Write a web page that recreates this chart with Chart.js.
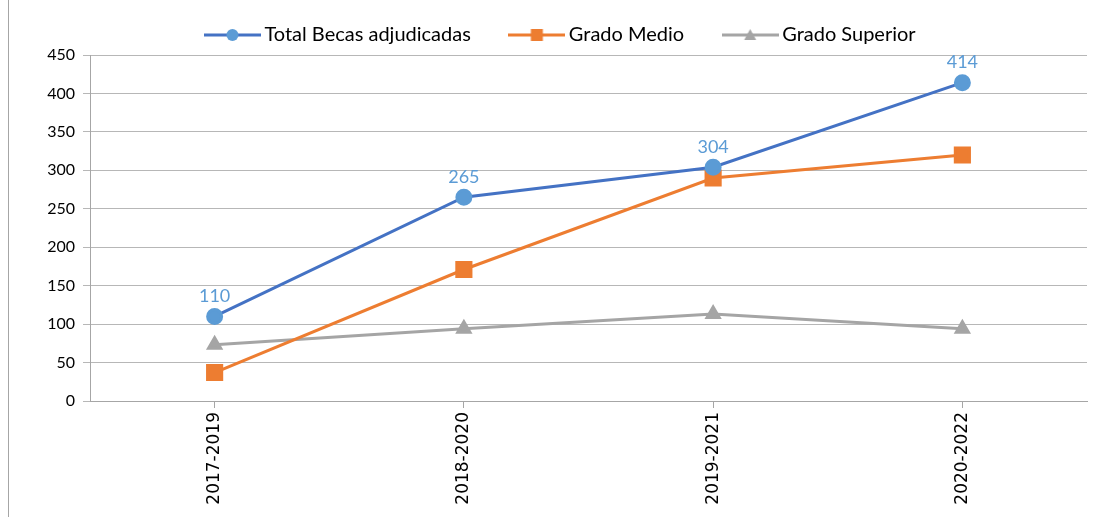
<!DOCTYPE html>
<html>
<head>
<meta charset="utf-8">
<script src="https://cdn.jsdelivr.net/npm/chart.js@4"></script>
<style>
    body { margin: 0; background: #fff; }
    #wrap { position: relative; width: 1102px; height: 517px; }
    #frame { position: absolute; left: 8px; top: 0; width: 1px; height: 517px; background: #a6a6a6; }
</style>
</head>
<body>
<div id="wrap">
    <div id="frame"></div>
    <canvas id="chart" width="1102" height="517"></canvas>
</div>
<script>
const periods = ['2017-2019', '2018-2020', '2019-2021', '2020-2022']
const totalBecas = [110, 265, 304, 414]
const gradoMedio = [37, 171, 290, 320]
const gradoSuperior = [73, 94, 113, 94]

const blueLine = '#4472c4'
const blueMark = '#5b9bd5'
const orange = '#ed7d31'
const grey = '#a5a5a5'

// legend swatch: a short line with the marker in the middle
function swatch(lineColor, markColor, style) {
    let c = document.createElement('canvas')
    c.width = 57
    c.height = 16
    let g = c.getContext('2d')
    g.strokeStyle = lineColor
    g.lineWidth = 3
    g.beginPath()
    g.moveTo(0, 8)
    g.lineTo(57, 8)
    g.stroke()
    g.fillStyle = markColor
    g.beginPath()
    if (style === 'circle') {
        g.arc(28.5, 8, 6, 0, Math.PI * 2)
    } else if (style === 'rect') {
        g.rect(22.5, 2, 12, 12)
    } else {
        g.moveTo(28.5, 2)
        g.lineTo(34.5, 13)
        g.lineTo(22.5, 13)
        g.closePath()
    }
    g.fill()
    return c
}

// value labels above the Total line
const totalLabels = {
    id: 'totalLabels',
    afterLayout(chart) {
        // nudge the legend a bit to the right, like in the original
        chart.legend.left = 39
    },
    afterDatasetsDraw(chart) {
        let ctx = chart.ctx
        let meta = chart.getDatasetMeta(0)
        ctx.save()
        ctx.font = '18px Lato, "Open Sans", sans-serif'
        ctx.fillStyle = blueMark
        ctx.textAlign = 'center'
        ctx.textBaseline = 'bottom'
        meta.data.forEach((pt, i) => {
            ctx.fillText(String(totalBecas[i]), pt.x, pt.y - 11)
        })
        ctx.restore()
    }
}

const ctx = document.getElementById('chart').getContext('2d')
new Chart(ctx, {
    type: 'line',
    data: {
        labels: periods,
        datasets: [{
            label: 'Total Becas adjudicadas',
            data: totalBecas,
            borderColor: blueLine,
            backgroundColor: blueMark,
            pointBackgroundColor: blueMark,
            pointBorderColor: blueMark,
            pointStyle: 'circle',
            pointRadius: 7,
            borderWidth: 3
        }, {
            label: 'Grado Medio',
            data: gradoMedio,
            borderColor: orange,
            backgroundColor: orange,
            pointBackgroundColor: orange,
            pointBorderColor: orange,
            pointStyle: 'rect',
            pointRadius: 10,
            borderWidth: 3
        }, {
            label: 'Grado Superior',
            data: gradoSuperior,
            borderColor: grey,
            backgroundColor: grey,
            pointBackgroundColor: grey,
            pointBorderColor: grey,
            pointStyle: 'triangle',
            pointRadius: 7,
            borderWidth: 3
        }]
    },
    options: {
        responsive: false,
        animation: false,
        layout: { padding: { left: 0, right: 15, top: -19, bottom: 9 } },
        plugins: {
            tooltip: { enabled: false },
            legend: {
                position: 'top',
                labels: {
                    usePointStyle: true,
                    pointStyleWidth: 44,
                    boxHeight: 16,
                    padding: 44,
                    color: '#000',
                    font: { family: 'Lato, "Open Sans", sans-serif', size: 20 },
                    generateLabels(chart) {
                        let styles = [
                            swatch(blueLine, blueMark, 'circle'),
                            swatch(orange, orange, 'rect'),
                            swatch(grey, grey, 'triangle')
                        ]
                        return chart.data.datasets.map((ds, i) => ({
                            text: ds.label,
                            pointStyle: styles[i],
                            fillStyle: ds.borderColor,
                            strokeStyle: ds.borderColor,
                            lineWidth: 0,
                            hidden: false,
                            datasetIndex: i
                        }))
                    }
                }
            }
        },
        scales: {
            x: {
                offset: true,
                grid: { drawOnChartArea: false, offset: false, tickLength: 7, color: '#a6a6a6' },
                border: { color: '#a6a6a6' },
                ticks: {
                    minRotation: 90,
                    maxRotation: 90,
                    padding: 4,
                    color: '#000',
                    font: { family: '"DejaVu Sans", sans-serif', size: 17 }
                },
                afterFit(scale) { scale.height = 107 }
            },
            y: {
                min: 0,
                max: 450,
                ticks: {
                    stepSize: 50,
                    padding: 8,
                    color: '#000',
                    font: { family: 'Lato, "Open Sans", sans-serif', size: 16 }
                },
                grid: { color: '#b7b7b7', tickLength: 7 },
                border: { color: '#a6a6a6' },
                afterFit(scale) { scale.width = 90 }
            }
        }
    },
    plugins: [totalLabels]
})
</script>
</body>
</html>
